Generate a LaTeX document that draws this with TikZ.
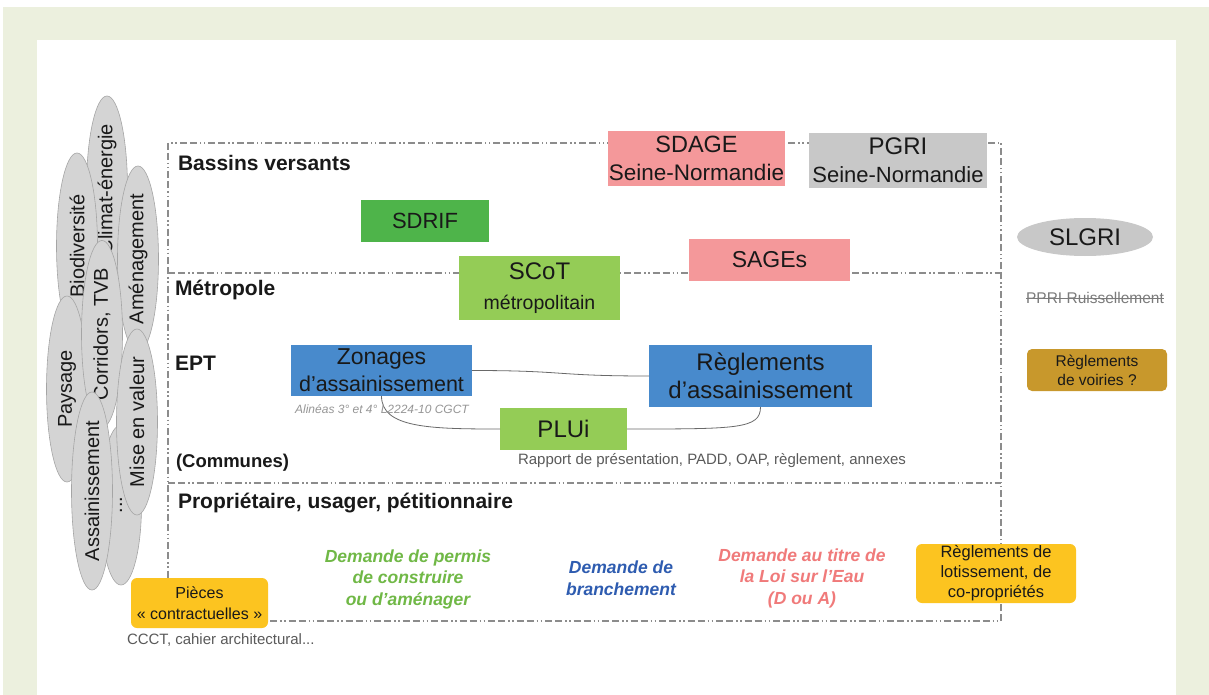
\documentclass[tikz,border=0pt]{standalone}
\usepackage{fontspec}
\setmainfont{Liberation Sans}
\usetikzlibrary{shapes.geometric,calc}
\definecolor{bggreen}{RGB}{236,240,222}
\definecolor{txt}{RGB}{25,25,25}
\definecolor{pinkbox}{RGB}{244,152,154}
\definecolor{graybox}{RGB}{200,200,200}
\definecolor{darkgreen}{RGB}{78,180,74}
\definecolor{lightgreen}{RGB}{148,204,86}
\definecolor{bluebox}{RGB}{72,138,204}
\definecolor{yellowbox}{RGB}{252,196,32}
\definecolor{ochre}{RGB}{200,152,44}
\definecolor{ovalfill}{RGB}{212,212,212}
\definecolor{ovaledge}{RGB}{165,165,165}
\definecolor{framegray}{RGB}{140,140,140}
\definecolor{linkgray}{RGB}{105,105,105}
\definecolor{demgreen}{RGB}{112,184,70}
\definecolor{demblue}{RGB}{46,92,176}
\definecolor{dempink}{RGB}{240,122,122}
\definecolor{notegray}{RGB}{90,90,90}
\definecolor{lightnote}{RGB}{150,150,150}
\newcommand\fz[2]{\fontsize{#1pt}{#2pt}\selectfont}
\begin{document}
\begin{tikzpicture}[x=1pt,y=-1pt,
  every node/.style={inner sep=0pt, outer sep=0pt, text=txt},
  box/.style={rectangle, align=center},
  rbox/.style={rectangle, rounded corners=6pt, align=center},
  sect/.style={anchor=west, font=\bfseries\fz{21}{25}},
  sepline/.style={draw=framegray, line width=1.1pt, dash pattern=on 7pt off 3pt on 7pt off 3pt on 1.5pt off 2.5pt on 1.5pt off 3pt},
  oval/.style={ellipse, draw=ovaledge, fill=ovalfill, line width=0.6pt, minimum width=186pt, minimum height=41pt, rotate=90, font=\fz{20}{24}},
  link/.style={draw=linkgray, line width=0.8pt},
  dem/.style={align=center, font=\bfseries\itshape\fz{17.5}{21.5}}
]
\useasboundingbox (0,0) rectangle (1209,695);
\fill[white] (0,0) rectangle (1209,695);
\fill[bggreen] (3,7) rectangle (1209,695);
\fill[white] (37,40) rectangle (1176,695);

% left ovals
\node[oval] (climat) at (107,189) {Climat-énergie};
\node[oval] (bio) at (77,246) {Biodiversité};
\node[oval] (amen) at (138,259) {Aménagement};
\node[oval] (pays) at (67,389) {Paysage};
\node[oval] (corr) at (102,334) {Corridors, TVB};
\node[oval, minimum width=160pt] (etc) at (121,505) {...};
\node[oval] (mise) at (137,422) {Mise en valeur};
\node[oval] (assai) at (92,491) {Assainissement};

% frame and dividers
\coordinate (ftl) at (168,143);
\coordinate (fbr) at (1001,621);
\coordinate (d1l) at (168,273);
\coordinate (d1r) at (1001,273);
\coordinate (d2l) at (168,483);
\coordinate (d2r) at (1001,483);
\draw[sepline] (ftl) rectangle (fbr);
\draw[sepline] (d1l) -- (d1r);
\draw[sepline] (d2l) -- (d2r);

% section labels
\node[sect] (bv) at (178,163) {Bassins versants};
\node[sect] (metro) at (175,290) {Métropole};
\node[sect] (ept) at (175,363) {EPT};
\node[sect, font=\bfseries\fz{18.5}{22}] (communes) at (176,463) {(Communes)};
\node[sect] (prop) at (178,503) {Propriétaire, usager, pétitionnaire};

% boxes
\node[box, fill=pinkbox, minimum width=177pt, minimum height=55pt, font=\fz{22.5}{28}] (sdage) at (696.5,158.5)
  {\fz{23.5}{28}SDAGE\\\fz{22.5}{28}Seine-Normandie};
\node[box, fill=graybox, minimum width=178pt, minimum height=55pt, font=\fz{22}{28}] (pgri) at (898,160.5)
  {\fz{24}{28}PGRI\\\fz{22}{28}Seine-Normandie};
\node[box, fill=darkgreen, minimum width=128pt, minimum height=42pt, font=\fz{22}{26}] (sdrif) at (425,221) {SDRIF};
\node[box, fill=pinkbox, minimum width=161pt, minimum height=42pt, font=\fz{23}{26}] (sages) at (769.5,260) {SAGEs};
\node[box, fill=lightgreen, minimum width=161pt, minimum height=64pt, font=\fz{19.5}{30}] (scot) at (539.5,288)
  {\fz{24}{30}SCoT\\\fz{19.5}{30}métropolitain};
\node[box, fill=bluebox, minimum width=181pt, minimum height=51pt, font=\fz{21.5}{27}] (zon) at (381.5,370.5)
  {\fz{23}{27}Zonages\\\fz{21.5}{27}d’assainissement};
\node[box, fill=bluebox, minimum width=223pt, minimum height=62pt, font=\fz{24}{28}] (reg) at (760.5,376)
  {Règlements\\d’assainissement};
\node[box, fill=lightgreen, minimum width=127pt, minimum height=42pt, font=\fz{24}{28}] (plui) at (563.5,429) {PLUi};

% connectors
\draw[link] (zon.east) .. controls +(95,0) and +(-95,0) .. (reg.west);
\draw[link] (zon.south) .. controls +(0,32) and +(-70,0) .. (plui.west);
\draw[link] (plui.east) .. controls +(110,0) and +(0,22) .. (reg.south);

% notes
\node[font=\itshape\fz{12}{14}, text=lightnote] (alinea) at (382,409) {Alinéas 3° et 4° L2224-10 CGCT};
\node[anchor=west, font=\fz{15}{18}, text=notegray] (rapport) at (518,461) {Rapport de présentation, PADD, OAP, règlement, annexes};

% right column
\node[ellipse, fill=graybox, minimum width=136pt, minimum height=38pt, font=\fz{24}{28}] (slgri) at (1085,237) {SLGRI};
\node[font=\fz{15.5}{18}, text=notegray!80] (ppri) at (1095,298) {PPRI Ruissellement};
\draw[notegray!80, line width=0.8pt] (ppri.west) -- (ppri.east);
\node[rbox, rounded corners=5pt, fill=ochre, minimum width=140pt, minimum height=42pt, font=\fz{15.5}{19}] (voiries) at (1097,370)
  {Règlements\\de voiries ?};

% bottom row
\node[dem, text=demgreen] (permis) at (408,579) {Demande de permis\\de construire\\ou d’aménager};
\node[dem, text=demblue] (branch) at (621,578) {Demande de\\branchement};
\node[dem, text=dempink] (loi) at (802,578) {Demande au titre de\\la Loi sur l’Eau\\(D ou A)};
\node[rbox, fill=yellowbox, minimum width=160pt, minimum height=59pt, font=\fz{16.5}{20}] (lotis) at (996,573.5)
  {Règlements de\\lotissement, de\\co-propriétés};
\node[rbox, fill=yellowbox, minimum width=137pt, minimum height=50pt, font=\fz{16}{21}] (pieces) at (199.5,603)
  {Pièces\\« contractuelles »};
\node[anchor=west, font=\fz{15}{18}, text=notegray] (ccct) at (127,640) {CCCT, cahier architectural...};
\end{tikzpicture}
\end{document}
